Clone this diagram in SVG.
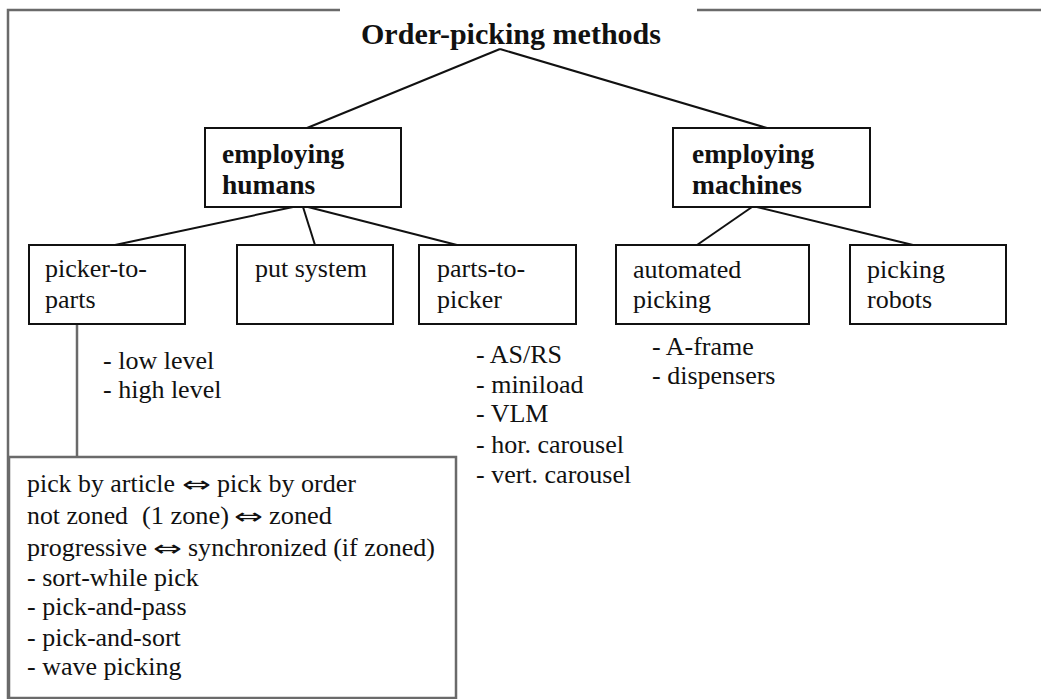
<svg xmlns="http://www.w3.org/2000/svg" width="1041" height="699" viewBox="0 0 1041 699">
  <style>
    .frame { fill: none; stroke: #6a6a6a; stroke-width: 2.5; }
    .box { fill: #ffffff; stroke: #111111; stroke-width: 2; }
    .link { fill: none; stroke: #111111; stroke-width: 2; }
    .title { font-family: "Liberation Serif", "DejaVu Serif", serif; font-weight: bold; font-size: 30px; fill: #111111; }
    .bold { font-family: "Liberation Serif", "DejaVu Serif", serif; font-weight: bold; font-size: 27.5px; fill: #111111; }
    .txt { font-family: "Liberation Serif", "DejaVu Serif", serif; font-size: 26px; fill: #111111; }
    .arrow { font-family: "DejaVu Sans", sans-serif; font-size: 22px; fill: #111111; }
  </style>

  <!-- outer frame (top edge interrupted for the title) -->
  <g id="frame">
    <polyline class="frame" points="340,10 8,10 8,699"/>
    <line class="frame" x1="697" y1="10" x2="1041" y2="10"/>
  </g>

  <!-- connectors -->
  <g id="connectors">
    <line class="link" x1="500" y1="49" x2="307" y2="128"/>
    <line class="link" x1="500" y1="49" x2="767" y2="128"/>
    <line class="link" x1="293" y1="207" x2="115" y2="245"/>
    <line class="link" x1="303" y1="207" x2="315" y2="245"/>
    <line class="link" x1="308" y1="207" x2="457" y2="245"/>
    <line class="link" x1="752" y1="207" x2="697" y2="245"/>
    <line class="link" x1="757" y1="207" x2="913" y2="245"/>
    <line class="frame" x1="77" y1="324" x2="77" y2="457"/>
  </g>

  <g id="root">
    <text class="title" x="361" y="44" textLength="300" lengthAdjust="spacingAndGlyphs">Order-picking methods</text>
  </g>

  <g id="employing-humans">
    <rect class="box" x="205" y="128" width="196" height="79"/>
    <text class="bold" x="222" y="163">employing</text>
    <text class="bold" x="222" y="194">humans</text>
  </g>

  <g id="employing-machines">
    <rect class="box" x="673" y="128" width="197" height="79"/>
    <text class="bold" x="692" y="163">employing</text>
    <text class="bold" x="692" y="194">machines</text>
  </g>

  <g id="picker-to-parts">
    <rect class="box" x="29" y="245" width="156" height="79"/>
    <text class="txt" x="45" y="277">picker-to-</text>
    <text class="txt" x="45" y="308">parts</text>
  </g>

  <g id="put-system">
    <rect class="box" x="237" y="245" width="156" height="79"/>
    <text class="txt" x="255" y="277">put system</text>
  </g>

  <g id="parts-to-picker">
    <rect class="box" x="419" y="245" width="157" height="79"/>
    <text class="txt" x="437" y="277">parts-to-</text>
    <text class="txt" x="437" y="308">picker</text>
  </g>

  <g id="automated-picking">
    <rect class="box" x="616" y="245" width="193" height="79"/>
    <text class="txt" x="633" y="278">automated</text>
    <text class="txt" x="633" y="308">picking</text>
  </g>

  <g id="picking-robots">
    <rect class="box" x="850" y="245" width="156" height="79"/>
    <text class="txt" x="867" y="278">picking</text>
    <text class="txt" x="867" y="308">robots</text>
  </g>

  <g id="picker-to-parts-levels">
    <text class="txt" x="103" y="369">- low level</text>
    <text class="txt" x="103" y="398">- high level</text>
  </g>

  <g id="parts-to-picker-systems">
    <text class="txt" x="476" y="363">- AS/RS</text>
    <text class="txt" x="476" y="393">- miniload</text>
    <text class="txt" x="476" y="422">- VLM</text>
    <text class="txt" x="476" y="453">- hor. carousel</text>
    <text class="txt" x="476" y="483">- vert. carousel</text>
  </g>

  <g id="automated-picking-systems">
    <text class="txt" x="652" y="355">- A-frame</text>
    <text class="txt" x="652" y="384">- dispensers</text>
  </g>

  <g id="picker-to-parts-variants">
    <rect class="frame" x="9" y="457" width="447" height="241" stroke-width="2"/>
    <!-- line 1: pick by article <=> pick by order -->
    <text class="txt" x="27" y="492" textLength="148" lengthAdjust="spacingAndGlyphs">pick by article</text>
    <text class="arrow" x="182" y="492" textLength="29" lengthAdjust="spacingAndGlyphs">⇔</text>
    <text class="txt" x="217" y="492" textLength="139" lengthAdjust="spacingAndGlyphs">pick by order</text>
    <!-- line 2 -->
    <text class="txt" x="27" y="524" textLength="101" lengthAdjust="spacingAndGlyphs">not zoned</text>
    <text class="txt" x="142" y="524" textLength="87" lengthAdjust="spacingAndGlyphs">(1 zone)</text>
    <text class="arrow" x="234" y="524" textLength="29" lengthAdjust="spacingAndGlyphs">⇔</text>
    <text class="txt" x="269" y="524" textLength="63" lengthAdjust="spacingAndGlyphs">zoned</text>
    <!-- line 3 -->
    <text class="txt" x="27" y="556" textLength="120" lengthAdjust="spacingAndGlyphs">progressive</text>
    <text class="arrow" x="153" y="556" textLength="29" lengthAdjust="spacingAndGlyphs">⇔</text>
    <text class="txt" x="188" y="556" textLength="247" lengthAdjust="spacingAndGlyphs">synchronized (if zoned)</text>
    <text class="txt" x="27" y="586">- sort-while pick</text>
    <text class="txt" x="27" y="615">- pick-and-pass</text>
    <text class="txt" x="27" y="646">- pick-and-sort</text>
    <text class="txt" x="27" y="675">- wave picking</text>
  </g>
</svg>
